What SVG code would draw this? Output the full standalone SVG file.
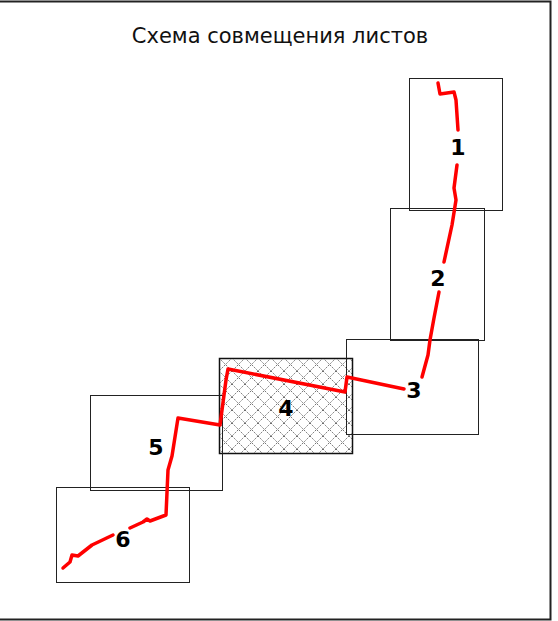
<svg xmlns="http://www.w3.org/2000/svg" width="558" height="621" viewBox="0 0 558 621">
  <style>
    .sheet { fill: none; stroke: #222; stroke-width: 1; }
    .sheet4 { fill: url(#hatch); stroke: #111; stroke-width: 1.5; }
    .num { font-family: "DejaVu Sans", Verdana, sans-serif; font-weight: bold; font-size: 22px; fill: #000; text-anchor: middle; }
    .title { font-family: "DejaVu Sans", Tahoma, sans-serif; font-size: 21px; fill: #111; text-anchor: middle; }
    .route { fill: none; stroke: #ff0000; stroke-width: 3.5; stroke-linejoin: round; stroke-linecap: round; }
  </style>
  <defs>
    <pattern id="hatch" patternUnits="userSpaceOnUse" x="219" y="358" width="13" height="13">
      <path d="M0,0 L13,13 M13,0 L0,13" stroke="#444" stroke-width="0.8" stroke-dasharray="1.4,1.1"/>
    </pattern>
  </defs>
  <rect x="0" y="0" width="558" height="621" fill="#fff"/>
  <path d="M0,1.5 H550.5 V619.5 H0" fill="none" stroke="#222" stroke-width="2"/>
  <text class="title" x="280" y="43">Схема совмещения листов</text>

  <g id="sheet4"><rect class="sheet4" x="219.5" y="358.5" width="133" height="95"/></g>
  <g id="sheet1"><rect class="sheet" x="409.5" y="78.5" width="93" height="132"/></g>
  <g id="sheet2"><rect class="sheet" x="390.5" y="208.5" width="94" height="132"/></g>
  <g id="sheet3"><rect class="sheet" x="346.5" y="339.5" width="132" height="95"/></g>
  <g id="sheet5"><rect class="sheet" x="90.5" y="395.5" width="132" height="95"/></g>
  <g id="sheet6"><rect class="sheet" x="56.5" y="487.5" width="133" height="95"/></g>

  <g id="connectors">
    <polyline class="route" points="438,83 440,94 454,92 456,100 458,130"/>
    <polyline class="route" points="457,165 454,188 456,200 452,225 444,262"/>
    <polyline class="route" points="439,292 434,318 430,340 428,355 422,377"/>
    <polyline class="route" points="404,389 347,377 345,392 228,369 226,380 220,425 178,418 172,456 168,470 166,515 150,521 147,519 143,522 130,528"/>
    <polyline class="route" points="113,535 92,545 78,556 72,555 70,562 63,568"/>
  </g>

  <g id="labels">
    <text class="num" x="458" y="155">1</text>
    <text class="num" x="438" y="286">2</text>
    <text class="num" x="414" y="398">3</text>
    <text class="num" x="286" y="416">4</text>
    <text class="num" x="156" y="455">5</text>
    <text class="num" x="123" y="547">6</text>
  </g>
</svg>
